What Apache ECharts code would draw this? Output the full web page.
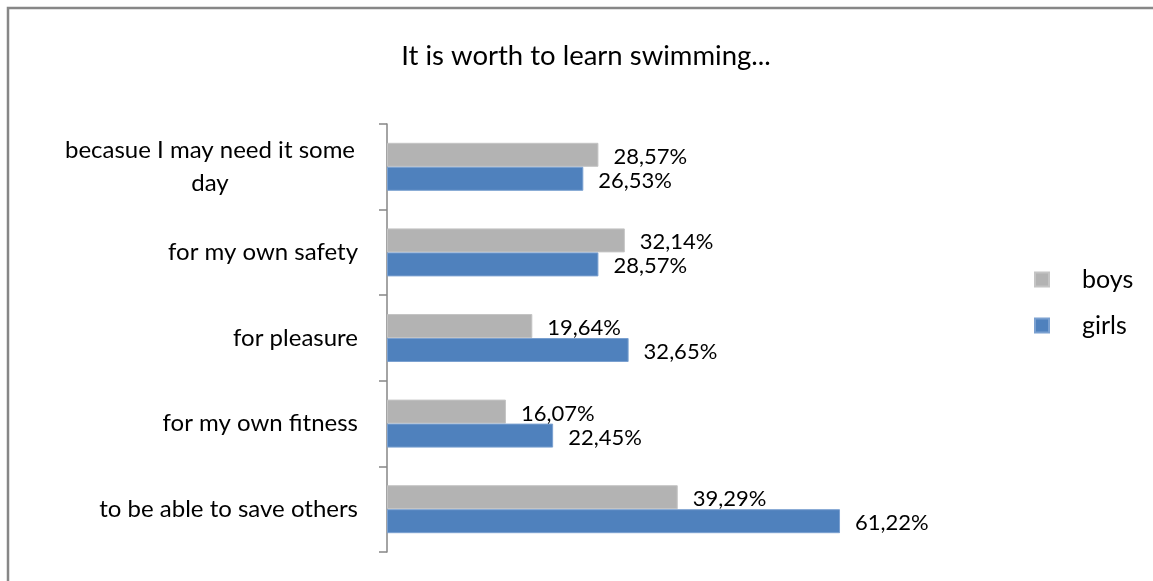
<!DOCTYPE html>
<html>
<head>
<meta charset="utf-8">
<script src="https://cdn.jsdelivr.net/npm/echarts@6/dist/echarts.min.js"></script>
<style>
html,body{margin:0;padding:0;background:#fff;}
#c{width:1153px;height:581px;}
</style>
</head>
<body>
<div id="c"></div>
<script>
var categories = ['becasue I may need it some day', 'for my own safety', 'for pleasure', 'for my own fitness', 'to be able to save others'];
var boys = [28.57, 32.14, 19.64, 16.07, 39.29];
var girls = [26.53, 28.57, 32.65, 22.45, 61.22];
var seriesNames = ['boys', 'girls'];
var titleText = 'It is worth to learn swimming...';

var FONT = 'Lato';
var chart = echarts.init(document.getElementById('c'));

function pct(p) {
  return p.value.toFixed(2).replace('.', ',') + '%';
}
function wrapLabel(v) {
  if (v.length <= 26) return v;
  var words = v.split(' ');
  var last = words.pop();
  return '{w|' + words.join(' ') + '}\n{w|' + last + '}';
}

var labelStyle = {
  show: true,
  position: 'right',
  distance: 15,
  formatter: pct,
  fontFamily: FONT,
  fontSize: 22,
  color: '#000',
  offset: [0, 2]
};

chart.setOption({
  animation: false,
  backgroundColor: '#fff',
  graphic: [{
    type: 'rect',
    shape: { x: 8, y: 8, width: 1200, height: 620 },
    style: { fill: 'none', stroke: '#878787', lineWidth: 2.5 },
    silent: true
  }],
  title: {
    text: titleText,
    left: 581,
    textAlign: 'center',
    top: 37,
    textStyle: { fontFamily: FONT, fontSize: 27.5, fontWeight: 'normal', color: '#000' }
  },
  legend: {
    orient: 'vertical',
    left: 1029,
    top: 262,
    itemWidth: 14,
    itemHeight: 14,
    itemGap: 21,
    icon: 'rect',
    textStyle: { fontFamily: FONT, fontSize: 25, color: '#000', padding: [0, 0, 0, 28] },
    data: seriesNames
  },
  grid: { left: 387, top: 124, bottom: 29, width: 518, containLabel: false },
  xAxis: {
    type: 'value',
    min: 0,
    max: 70,
    show: false
  },
  yAxis: {
    type: 'category',
    inverse: true,
    data: categories,
    axisLine: { show: true, lineStyle: { color: '#868686', width: 1.5 } },
    axisTick: { show: true, length: 8, lineStyle: { color: '#868686', width: 1.5 } },
    axisLabel: {
      margin: 29,
      fontFamily: FONT,
      fontSize: 24,
      color: '#000',
      lineHeight: 33,
      formatter: wrapLabel,
      rich: {
        w: { width: 296, align: 'center', fontFamily: FONT, fontSize: 24, color: '#000', lineHeight: 33 }
      }
    },
    splitLine: { show: false }
  },
  series: [
    {
      name: seriesNames[0],
      type: 'bar',
      data: boys,
      barWidth: 24,
      barGap: '0%',
      itemStyle: { color: '#B3B3B3', borderColor: '#C4C4C4', borderWidth: 1 },
      label: labelStyle
    },
    {
      name: seriesNames[1],
      type: 'bar',
      data: girls,
      barWidth: 24,
      barGap: '0%',
      itemStyle: { color: '#4F81BD', borderColor: '#7AA0D0', borderWidth: 1 },
      label: labelStyle
    }
  ]
});
</script>
</body>
</html>
